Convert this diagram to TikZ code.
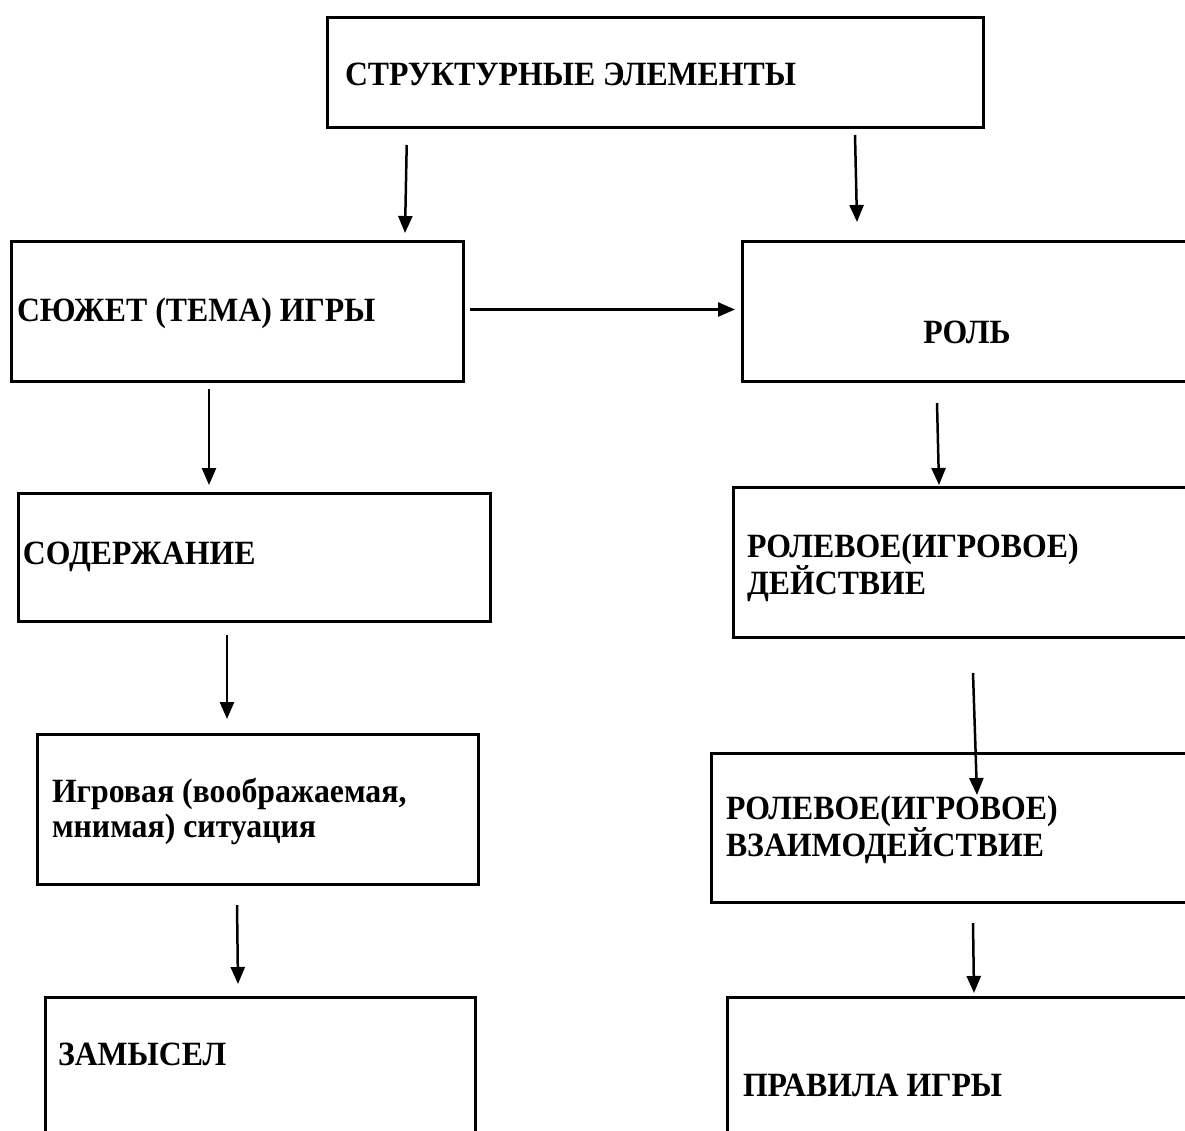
\documentclass[tikz,border=0pt]{standalone}
\usepackage{fontspec}
\setmainfont{Liberation Serif}
\usetikzlibrary{arrows.meta}
\newcommand\sxx[1]{\scalebox{0.935}[1]{#1}}
\begin{document}
\begin{tikzpicture}[x=1pt,y=-1pt,
  box/.style={draw,line width=3pt,inner sep=0pt,outer sep=0pt,anchor=north west},
  lbl/.style={inner sep=0pt,outer sep=0pt,font=\fontsize{34}{35}\selectfont\bfseries,align=left},
  arr/.style={line width=2.5pt,-{Triangle[width=14pt,length=17pt]}}]
\useasboundingbox (0,0) rectangle (1185,1131);
\clip (0,0) rectangle (1185,1131);
% boxes
\node[box,minimum width=656pt,minimum height=110pt] (top) at (327,18) {};
\node[box,minimum width=452pt,minimum height=139pt] (b1) at (11,242) {};
\node[box,minimum width=453pt,minimum height=139pt] (r1) at (742,242) {};
\node[box,minimum width=472pt,minimum height=128pt] (l2) at (18,493) {};
\node[box,minimum width=462pt,minimum height=150pt] (r2) at (733,487) {};
\node[box,minimum width=441pt,minimum height=150pt] (l3) at (37,734) {};
\node[box,minimum width=484pt,minimum height=149pt] (r3) at (711,753) {};
\node[box,minimum width=430pt,minimum height=150pt] (l4) at (45,997) {};
\node[box,minimum width=468pt,minimum height=150pt] (r4) at (727,997) {};
% texts
\node[lbl,anchor=base west] (ttop) at (345,86) {\sxx{СТРУКТУРНЫЕ ЭЛЕМЕНТЫ}};
\node[lbl,anchor=base west] (tb1) at (17,321) {\sxx{СЮЖЕТ (ТЕМА) ИГРЫ}};
\node[lbl,anchor=base] (tr1) at (967,343) {\sxx{РОЛЬ}};
\node[lbl,anchor=base west] (tl2) at (23,564) {\sxx{СОДЕРЖАНИЕ}};
\node[lbl,anchor=west] (tr2) at (747,567.5) {\sxx{РОЛЕВОЕ(ИГРОВОЕ)}\\\sxx{ДЕЙСТВИЕ}};
\node[lbl,anchor=west] (tl3) at (52,811.5) {\sxx{Игровая (воображаемая,}\\\sxx{мнимая) ситуация}};
\node[lbl,anchor=west] (tr3) at (726,829.5) {\sxx{РОЛЕВОЕ(ИГРОВОЕ)}\\\sxx{ВЗАИМОДЕЙСТВИЕ}};
\node[lbl,anchor=base west] (tl4) at (58,1065) {\sxx{ЗАМЫСЕЛ}};
\node[lbl,anchor=base west] (tr4) at (743,1096) {\sxx{ПРАВИЛА ИГРЫ}};
% arrow end points
\coordinate (a1s) at (406.7,145); \coordinate (a1e) at (405,233);
\coordinate (a2s) at (855,135);   \coordinate (a2e) at (857,222);
\coordinate (a3s) at (470,309.5); \coordinate (a3e) at (735,309.5);
\coordinate (a4s) at (209,389);   \coordinate (a4e) at (209,485);
\coordinate (a5s) at (937,403);   \coordinate (a5e) at (939,485);
\coordinate (a6s) at (227,635);   \coordinate (a6e) at (227,719);
\coordinate (a7s) at (973,673);   \coordinate (a7e) at (977,795);
\coordinate (a8s) at (237,905);   \coordinate (a8e) at (238,984);
\coordinate (a9s) at (973,923);   \coordinate (a9e) at (974,993);
\foreach \i in {1,...,9} \draw[arr] (a\i s) -- (a\i e);
\end{tikzpicture}
\end{document}
